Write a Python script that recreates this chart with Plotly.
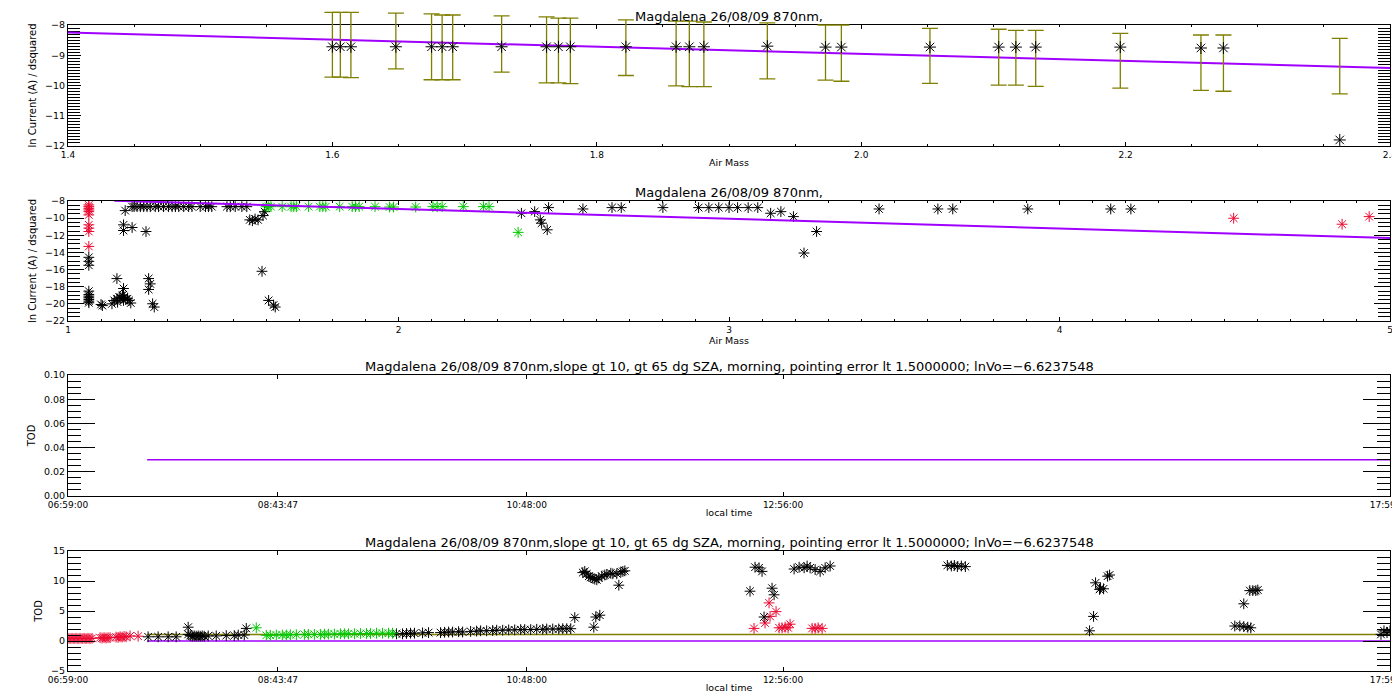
import plotly.graph_objects as go

# ---------------- dados ----------------
titulo_curto = "Magdalena 26/08/09 870nm,"
titulo_longo = ("Magdalena 26/08/09 870nm,slope gt 10, gt 65 dg SZA, morning, "
                "pointing error lt 1.5000000; lnVo=\u22126.6237548")

# painel 1: pontos selecionados (verde no painel 2) com barras de erro
am_sel = [1.600, 1.606, 1.614, 1.648, 1.675, 1.683, 1.691, 1.728, 1.762, 1.771, 1.780,
          1.822, 1.860, 1.870, 1.881, 1.929, 1.973, 1.985, 2.052, 2.104, 2.117, 2.132,
          2.196, 2.257, 2.274, 2.362]
lnI_sel = [-8.72, -8.72, -8.72, -8.72, -8.72, -8.72, -8.72, -8.72, -8.72, -8.72, -8.72,
           -8.72, -8.72, -8.72, -8.72, -8.70, -8.73, -8.73, -8.73, -8.73, -8.73, -8.73,
           -8.73, -8.76, -8.76, -11.80]
erro_topo = [-7.58, -7.58, -7.58, -7.61, -7.63, -7.67, -7.67, -7.70, -7.73, -7.77, -7.77,
             -7.83, -7.87, -7.87, -7.90, -7.93, -8.00, -8.00, -8.11, -8.14, -8.18, -8.18,
             -8.28, -8.33, -8.33, -8.44]
erro_base = [-9.72, -9.72, -9.74, -9.45, -9.81, -9.81, -9.81, -9.56, -9.91, -9.91, -9.94,
             -9.67, -10.01, -10.04, -10.04, -9.78, -9.82, -9.86, -9.93, -9.99, -9.99, -10.03,
             -10.09, -10.16, -10.19, -10.28]
ajuste1_x = [1.4, 2.4]
ajuste1_y = [-8.25, -9.42]

# painel 2: todos os pontos
am_preto = [1.063, 1.063, 1.063, 1.063, 1.063, 1.063, 1.063, 1.063, 1.063, 1.063,
            1.100, 1.104, 1.133, 1.140, 1.148, 1.150, 1.155, 1.160, 1.165, 1.168, 1.170,
            1.175, 1.180, 1.185, 1.190, 1.148, 1.168, 1.168, 1.168, 1.194, 1.173,
            1.194, 1.200, 1.209, 1.219, 1.229, 1.239, 1.249, 1.264, 1.274, 1.289, 1.304,
            1.315, 1.325, 1.335, 1.350, 1.365, 1.375, 1.400, 1.416, 1.425, 1.435,
            1.481, 1.491, 1.506, 1.526, 1.541,
            1.236, 1.244, 1.244, 1.249, 1.256, 1.261,
            1.550, 1.558, 1.566, 1.575, 1.590, 1.595, 1.587, 1.607, 1.622, 1.627,
            2.372, 2.412, 2.433, 2.429, 2.450, 2.454, 2.558, 2.646, 2.674, 2.800, 2.908,
            2.939, 2.969, 3.000, 3.026, 3.058, 3.087, 3.126, 3.157, 3.195, 3.227, 3.265,
            3.454, 3.632, 3.677, 3.904, 4.155, 4.216]
lnI_preto = [-14.57, -15.04, -15.50, -18.52, -18.90, -19.29, -19.68, -19.87, -19.50, -19.10,
             -20.07, -20.20, -20.00, -19.60, -19.40, -19.80, -19.20, -19.30, -19.00, -19.60, -19.20,
             -19.50, -19.40, -19.60, -19.90, -17.05, -18.21, -10.78, -11.44, -11.09, -9.12,
             -8.66, -8.66, -8.66, -8.66, -8.66, -8.66, -8.66, -8.66, -8.66, -8.66, -8.66,
             -8.66, -8.66, -8.66, -8.66, -8.66, -8.66, -8.66, -8.66, -8.66, -8.66,
             -8.66, -8.66, -8.66, -8.66, -8.66,
             -11.56, -17.05, -18.32, -17.67, -19.99, -20.37,
             -10.20, -10.30, -10.10, -10.20, -9.70, -9.24, -16.20, -19.60, -20.14, -20.37,
             -9.43, -9.24, -10.59, -10.20, -11.36, -8.77, -8.93, -8.77, -8.77, -8.77, -8.77,
             -8.77, -8.77, -8.77, -8.77, -8.77, -8.77, -9.43, -9.24, -9.82, -14.07, -11.56,
             -8.93, -8.93, -8.93, -8.93, -8.93, -8.93]
am_vermelho = [1.063, 1.063, 1.063, 1.063, 1.063, 1.063, 1.063, 1.063, 1.063, 1.063,
               4.527, 4.855, 4.937]
lnI_vermelho = [-8.46, -8.66, -8.85, -9.04, -9.24, -9.62, -10.78, -11.17, -11.56, -13.30,
                -10.01, -10.71, -9.82]
am_verde = am_sel
lnI_verde = [-8.66, -8.66, -8.66, -8.66, -8.66, -8.66, -8.66, -8.66, -8.66, -8.66, -8.66,
             -8.66, -8.66, -8.66, -8.66, -8.66, -8.70, -8.70, -8.70, -8.66, -8.66, -8.66,
             -8.66, -8.66, -8.66, -11.66]
ajuste2_x = [1.14, 5.0]
ajuste2_y = [-7.96, -12.33]

# painel 3
hora_ticks = ["06:59:00", "08:43:47", "10:48:00", "12:56:00", "17:59:00"]
tod_ajuste_t = ["07:38:30", "17:59:00"]
tod_ajuste = [0.03, 0.03]

# painel 4
t_vermelho = ["06:59", "07:00", "07:01", "07:02", "07:03", "07:04", "07:05", "07:06", "07:07",
              "07:08", "07:09", "07:10", "07:11", "07:15", "07:16", "07:17", "07:18", "07:19",
              "07:20", "07:23", "07:24", "07:25", "07:26", "07:27", "07:28", "07:30", "07:34",
              "12:41:30", "12:47", "12:49", "12:49:30", "12:52:30", "12:54", "12:55:30", "12:57",
              "12:58:30", "12:59:30", "13:10:30", "13:12", "13:13:30", "13:15:30"]
tod_vermelho = [0.45, 0.40, 0.45, 0.40, 0.45, 0.40, 0.45, 0.40, 0.45, 0.40, 0.45, 0.40, 0.45,
                0.55, 0.50, 0.55, 0.50, 0.55, 0.55, 0.65, 0.60, 0.70, 0.65, 0.75, 0.70, 0.85, 0.80,
                2.1, 3.0, 6.35, 4.1, 4.9, 2.2, 2.2, 2.3, 2.2, 2.8, 2.1, 2.1, 2.2, 2.1]
t_preto = ["07:39", "07:44", "07:49", "07:53", "07:59", "07:59", "08:00", "08:01", "08:02",
           "08:03", "08:04", "08:05", "08:06", "08:07", "08:09", "08:13", "08:18", "08:22",
           "08:24", "08:27", "08:28",
           "09:43", "09:46", "09:48", "09:50", "09:52", "09:56", "09:59", "10:05", "10:07",
           "10:09", "10:11", "10:14", "10:16", "10:20", "10:23", "10:25", "10:28", "10:31",
           "10:33", "10:36", "10:39", "10:42", "10:45", "10:47", "10:50", "10:53", "10:56",
           "10:58", "11:01", "11:04", "11:06", "11:08", "11:10", "11:12",
           "11:16", "11:17", "11:18", "11:19", "11:20", "11:21", "11:22", "11:23", "11:24",
           "11:25:30", "11:27", "11:28", "11:30", "11:31", "11:33", "11:34", "11:35", "11:36",
           "11:37", "11:21:30", "11:22:30", "11:24:30",
           "12:39:30", "12:42", "12:44", "12:45:30", "12:46:30", "12:50:30", "12:51:30",
           "13:01:30", "13:04", "13:06:30", "13:08", "13:09:30", "13:12", "13:14:30", "13:17",
           "13:19:30", "14:18", "14:20", "14:21:30", "14:23", "14:25", "14:27",
           "15:29", "15:31", "15:32", "15:34", "15:34:30", "15:36", "15:38", "15:39",
           "16:41:30", "16:44", "16:46", "16:48", "16:49:30", "16:46", "16:49", "16:50:30",
           "16:52", "16:53", "17:54:30", "17:56", "17:57:30", "17:59"]
tod_preto = [0.7, 0.7, 0.7, 0.7, 2.3, 1.1, 0.9, 0.8, 0.85, 0.8, 0.85, 0.8, 0.85, 0.8, 0.85,
             0.85, 0.9, 0.9, 1.0, 1.0, 2.1,
             1.2, 1.2, 1.25, 1.3, 1.3, 1.35, 1.4, 1.4, 1.45, 1.5, 1.5, 1.55, 1.5, 1.6, 1.65,
             1.7, 1.7, 1.75, 1.8, 1.8, 1.85, 1.85, 1.9, 1.9, 1.9, 1.95, 1.95, 2.0, 2.0, 2.0,
             2.05, 2.05, 2.05, 3.9,
             11.4, 11.6, 11.2, 10.8, 10.6, 10.5, 10.3, 10.2, 10.5, 10.8, 11.0, 11.1, 11.3,
             11.2, 11.2, 9.3, 11.5, 11.6, 11.7, 2.3, 4.0, 4.3,
             8.3, 12.3, 12.2, 11.6, 4.0, 8.8, 7.7,
             12.0, 12.3, 12.2, 12.5, 12.2, 11.9, 11.6, 12.2, 12.5,
             12.6, 12.5, 12.6, 12.4, 12.5, 12.4,
             1.7, 4.1, 9.7, 8.6, 8.8, 8.7, 10.8, 11.0,
             2.5, 2.5, 2.4, 2.3, 2.2, 6.2, 8.4, 8.4, 8.4, 8.5, 1.1, 1.7, 1.4, 1.7]
t_verde = ["08:33", "08:38", "08:40", "08:43", "08:46", "08:48", "08:50", "08:53", "08:57",
           "08:59", "09:02", "09:05", "09:07", "09:09", "09:12", "09:15", "09:17", "09:19",
           "09:22", "09:25", "09:28", "09:30", "09:33", "09:36", "09:39", "09:41"]
tod_verde = [2.2, 0.95, 0.95, 1.0, 1.0, 1.0, 1.05, 1.05, 1.1, 1.1, 1.1, 1.1, 1.15, 1.15, 1.15,
             1.2, 1.2, 1.2, 1.2, 1.25, 1.25, 1.25, 1.3, 1.3, 1.3, 1.3]
linha_t = ["07:38:30", "17:59:00"]
linha_zero = [0.0, 0.0]
linha_oliva = [1.1, 1.1]


def horas(lista):
    out = []
    for s in lista:
        p = [int(v) for v in s.split(":")]
        while len(p) < 3:
            p.append(0)
        out.append(p[0] + p[1] / 60 + p[2] / 3600)
    return out


# ---------------- estilo ----------------
ROXO = "rgb(160,0,255)"
OLIVA = "rgb(128,128,0)"
VERMELHO = "rgb(235,10,50)"
VERDE = "rgb(0,200,0)"
FONTE = "DejaVu Sans"


def estrela(cor, tam=9):
    return dict(symbol="asterisk-open", size=tam, color=cor, line=dict(color=cor, width=1))


fig = go.Figure()

# painel 1: as barras de erro saem por cima do quadro, por isso o painel e
# desenhado num eixo y auxiliar (y5) mais alto, com a mesma escala do eixo y.
# o traco vazio so serve para o plotly montar o subplot x/y com os eixos.
fig.add_trace(go.Scatter(x=[], y=[], mode="markers", xaxis="x", yaxis="y"))
fig.add_trace(go.Scatter(x=ajuste1_x, y=ajuste1_y, mode="lines", line=dict(color=ROXO, width=2),
                         xaxis="x", yaxis="y5"))
fig.add_trace(go.Scatter(x=am_sel, y=lnI_sel, mode="markers", marker=estrela("black", 10),
                         error_y=dict(type="data", symmetric=False,
                                      array=[t - v for t, v in zip(erro_topo, lnI_sel)],
                                      arrayminus=[v - b for v, b in zip(lnI_sel, erro_base)],
                                      color=OLIVA, thickness=1.3, width=8),
                         xaxis="x", yaxis="y5"))

# painel 2
fig.add_trace(go.Scatter(x=am_preto, y=lnI_preto, mode="markers", marker=estrela("black"),
                         xaxis="x2", yaxis="y2"))
fig.add_trace(go.Scatter(x=am_vermelho, y=lnI_vermelho, mode="markers", marker=estrela(VERMELHO),
                         xaxis="x2", yaxis="y2"))
fig.add_trace(go.Scatter(x=am_verde, y=lnI_verde, mode="markers", marker=estrela(VERDE),
                         xaxis="x2", yaxis="y2"))
fig.add_trace(go.Scatter(x=ajuste2_x, y=ajuste2_y, mode="lines", line=dict(color=ROXO, width=2),
                         xaxis="x2", yaxis="y2"))

# painel 3
fig.add_trace(go.Scatter(x=horas(tod_ajuste_t), y=tod_ajuste, mode="lines",
                         line=dict(color=ROXO, width=1.5), xaxis="x3", yaxis="y3"))

# painel 4
fig.add_trace(go.Scatter(x=horas(linha_t), y=linha_zero, mode="lines",
                         line=dict(color=ROXO, width=1.5), xaxis="x4", yaxis="y4"))
fig.add_trace(go.Scatter(x=horas(linha_t), y=linha_oliva, mode="lines",
                         line=dict(color=OLIVA, width=1.5), xaxis="x4", yaxis="y4"))
fig.add_trace(go.Scatter(x=horas(t_vermelho), y=tod_vermelho, mode="markers",
                         marker=estrela(VERMELHO), xaxis="x4", yaxis="y4"))
fig.add_trace(go.Scatter(x=horas(t_preto), y=tod_preto, mode="markers",
                         marker=estrela("black"), xaxis="x4", yaxis="y4"))
fig.add_trace(go.Scatter(x=horas(t_verde), y=tod_verde, mode="markers",
                         marker=estrela(VERDE), xaxis="x4", yaxis="y4"))

dom_x = [60 / 1400, 1382 / 1400]


def eixo_x(ancora, faixa, titulo, **kw):
    return dict(domain=dom_x, anchor=ancora, range=faixa, showline=True, linecolor="black",
                linewidth=1, mirror="ticks", ticks="inside", ticklen=4, tickcolor="black",
                showgrid=False, zeroline=False, tickfont=dict(size=9, family=FONTE, color="black"),
                title=dict(text=titulo, font=dict(size=9.5, family=FONTE, color="black"), standoff=0),
                ticklabeloverflow="allow", automargin=False, **kw)


def eixo_y(ancora, dominio, faixa, titulo, comp=13, **kw):
    return dict(domain=dominio, anchor=ancora, range=faixa, showline=True, linecolor="black",
                linewidth=1, mirror="ticks", ticks="inside", ticklen=comp, tickcolor="black",
                showgrid=False, zeroline=False, tickfont=dict(size=9.5, family=FONTE, color="black"),
                title=dict(text=titulo, font=dict(size=10, family=FONTE, color="black"), standoff=6),
                automargin=False, **kw)


ticks_h = horas(hora_ticks)

# painel 1: 17..138 px -> [-12, -8]; eixo auxiliar vai ate 2 px com a mesma escala
px_por_un = (138 - 17) / 4.0
topo_aux = -12 + (138 - 2) / px_por_un

fig.update_layout(
    width=1400, height=700, showlegend=False,
    paper_bgcolor="white", plot_bgcolor="rgba(0,0,0,0)",
    margin=dict(l=0, r=0, t=0, b=0),
    font=dict(family=FONTE, color="black"),
    xaxis=eixo_x("y", [1.4, 2.4], "Air Mass", dtick=0.2, tickformat=".1f",
                 minor=dict(dtick=0.05, ticks="inside", ticklen=2, tickcolor="black")),
    yaxis=eixo_y("x", [1 - 138 / 700, 1 - 17 / 700], [-12, -8], "ln Current (A) / dsquared",
                 dtick=1, minor=dict(dtick=0.1, ticks="inside", ticklen=12, tickcolor="black")),
    yaxis5=dict(domain=[1 - 138 / 700, 1 - 2 / 700], anchor="free", position=dom_x[0],
                range=[-12, topo_aux], visible=False, showgrid=False, zeroline=False),
    xaxis2=eixo_x("y2", [1, 5], "Air Mass", dtick=1,
                  minor=dict(dtick=0.1, ticks="inside", ticklen=2, tickcolor="black")),
    yaxis2=eixo_y("x2", [1 - 313 / 700, 1 - 193 / 700], [-22, -8], "ln Current (A) / dsquared",
                  comp=16, dtick=2,
                  minor=dict(dtick=0.5, ticks="inside", ticklen=12, tickcolor="black")),
    xaxis3=eixo_x("y3", [ticks_h[0], ticks_h[-1]], "local time", tickvals=ticks_h, ticktext=hora_ticks),
    yaxis3=eixo_y("x3", [1 - 488 / 700, 1 - 367 / 700], [0, 0.1], "TOD", comp=27, dtick=0.02,
                  tickformat=".2f",
                  minor=dict(dtick=0.005, ticks="inside", ticklen=13, tickcolor="black")),
    xaxis4=eixo_x("y4", [ticks_h[0], ticks_h[-1]], "local time", tickvals=ticks_h, ticktext=hora_ticks),
    yaxis4=eixo_y("x4", [1 - 663 / 700, 1 - 543 / 700], [-5, 15], "TOD", comp=27, dtick=5,
                  minor=dict(dtick=1, ticks="inside", ticklen=13, tickcolor="black")),
)

# titulos dos paineis
for texto, ypx in [(titulo_curto, 8), (titulo_curto, 184), (titulo_longo, 358), (titulo_longo, 534)]:
    fig.add_annotation(text=texto, x=(dom_x[0] + dom_x[1]) / 2, y=1 - ypx / 700, xref="paper",
                       yref="paper", showarrow=False, xanchor="center", yanchor="middle",
                       font=dict(size=13, family=FONTE, color="black"))

fig.write_html("out.html")
